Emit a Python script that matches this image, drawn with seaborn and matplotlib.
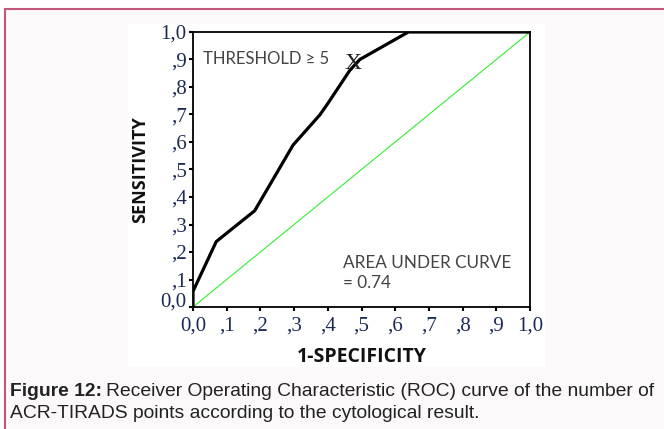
import matplotlib as mpl
import matplotlib.pyplot as plt
import numpy as np
import pandas as pd
import seaborn as sns
from matplotlib.patches import Rectangle
from matplotlib.transforms import ScaledTranslation

sns.set_style('white')
plt.rcParams['font.family'] = ['Liberation Serif', 'DejaVu Serif']

# ROC curve
fpr = [0.0, 0.0, 0.069, 0.183, 0.297, 0.376, 0.40, 0.465, 0.495, 0.639, 1.0]
tpr = [0.0, 0.057, 0.238, 0.35, 0.589, 0.698, 0.74, 0.86, 0.90, 1.0, 1.0]
ref_x = [0.0, 1.0]
ref_y = [0.0, 1.0]
thr_point = (0.475, 0.885)
ticks = [0.0, 0.1, 0.2, 0.3, 0.4, 0.5, 0.6, 0.7, 0.8, 0.9, 1.0]
tick_labels = ['0,0', ',1', ',2', ',3', ',4', ',5', ',6', ',7', ',8', ',9', '1,0']

roc = pd.DataFrame({'fpr': fpr, 'tpr': tpr})
diag = pd.DataFrame({'x': ref_x, 'y': ref_y})

W, H = 664, 429
fig = plt.figure(figsize=(W / 100, H / 100), dpi=100)
fig.patch.set_facecolor('white')

# caption box and the white picture area
fig.add_artist(Rectangle((5 / W, -0.1), 1.1, (H - 9) / H + 0.1, transform=fig.transFigure,
                         facecolor='#fcf9fa', edgecolor='#c4577a', lw=1.5, zorder=-10))
fig.add_artist(Rectangle((128 / W, 1 - 367 / H), (545 - 128) / W, (367 - 24) / H,
                         transform=fig.transFigure, facecolor='white', edgecolor='none',
                         zorder=-9))

ax = fig.add_axes([193 / W, 1 - 307 / H, (530 - 193) / W, (307 - 32) / H])
ax.set_facecolor('white')

sns.lineplot(data=diag, x='x', y='y', ax=ax, color='#33ee33', lw=0.8)
sns.lineplot(data=roc, x='fpr', y='tpr', ax=ax, sort=False, color='black', lw=2.3,
             estimator=None)

ax.set_xlim(0, 1)
ax.set_ylim(0, 1)
ax.set_xticks(ticks)
ax.set_yticks(ticks)
ax.set_xticklabels(tick_labels)
ax.set_yticklabels(tick_labels)
ax.tick_params(axis='both', which='both', direction='out', length=3, width=1.5,
               colors='black', labelcolor='#1c2a55', labelsize=15, pad=1.5,
               bottom=True, left=True)
ax.tick_params(axis='x', pad=4)
# the lowest y label sits a little above its tick in the original
lab0 = ax.get_yticklabels()[0]
lab0.set_transform(lab0.get_transform() + ScaledTranslation(0, 7 / 100, fig.dpi_scale_trans))
for s in ax.spines.values():
    s.set_color('black')
    s.set_linewidth(1.3)

ax.set_xlabel('1-SPECIFICITY', family='Open Sans', fontweight='bold', fontsize=14,
              labelpad=8, color='#111111')
ax.set_ylabel('SENSITIVITY', family='Open Sans', fontweight='bold', fontsize=13,
              labelpad=8, color='#111111')

ax.text(0.03, 0.9, 'THRESHOLD \u2265 5', family=['Lato', 'DejaVu Sans'], fontsize=12,
        color='#444444', va='center', ha='left')
ax.text(thr_point[0], thr_point[1], 'X', family='Liberation Serif', fontsize=17,
        color='#222222', ha='center', va='center')
ax.text(0.445, 0.16, 'AREA UNDER CURVE', family=['Lato', 'DejaVu Sans'], fontsize=12.3,
        color='#444444', va='center', ha='left')
ax.text(0.445, 0.087, '= 0.74', family=['Lato', 'DejaVu Sans'], fontsize=12.3,
        color='#444444', va='center', ha='left')

bold = fig.text(10 / W, 1 - 392 / H, 'Figure 12:', family='Liberation Sans',
                fontweight='bold', fontsize=13.85, va='center', ha='left', color='#222222')
fig.canvas.draw()
bb = bold.get_window_extent()
fig.text((bb.x1 + 4) / W, 1 - 392 / H,
         'Receiver Operating Characteristic (ROC) curve of the number of',
         family='Liberation Sans', fontsize=13.85, va='center', ha='left', color='#222222')
fig.text(10 / W, 1 - 413 / H, 'ACR-TIRADS points according to the cytological result.',
         family='Liberation Sans', fontsize=13.85, va='center', ha='left', color='#222222')

fig.savefig('out.png', dpi=100)
